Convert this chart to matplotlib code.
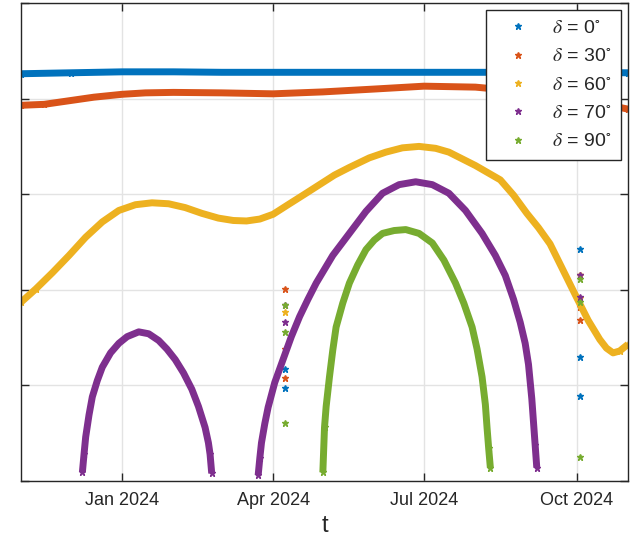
import matplotlib.pyplot as plt
import matplotlib.dates as mdates
import numpy as np
from matplotlib.lines import Line2D

# MATLAB default colour order
COLORS = ["#0072BD", "#D95319", "#EDB120", "#7E2F8E", "#77AC30"]
LABELS = [r"$\delta$ = 0$^{\circ}$", r"$\delta$ = 30$^{\circ}$",
          r"$\delta$ = 60$^{\circ}$", r"$\delta$ = 70$^{\circ}$",
          r"$\delta$ = 90$^{\circ}$"]

# curve values (date, value)
d0_dates = ["2023-11-01", "2023-12-01", "2024-01-01", "2024-02-01",
            "2024-03-01", "2024-04-01", "2024-05-01", "2024-06-01",
            "2024-07-01", "2024-08-01", "2024-09-01", "2024-10-01",
            "2024-11-01"]
d0_vals = [42.6, 42.7, 42.8, 42.8, 42.75, 42.75, 42.75, 42.75,
           42.75, 42.75, 42.75, 42.75, 42.7]

d30_dates = ["2023-11-01", "2023-11-15", "2023-12-01", "2023-12-15",
             "2024-01-01", "2024-01-15", "2024-02-01", "2024-03-01",
             "2024-04-01", "2024-05-01", "2024-06-01", "2024-07-01",
             "2024-08-01", "2024-09-01", "2024-10-01", "2024-11-01"]
d30_vals = [39.3, 39.4, 39.8, 40.15, 40.45, 40.6, 40.65, 40.6,
            40.5, 40.7, 41.0, 41.3, 41.2, 40.7, 40.0, 38.9]

d60_dates = ["2023-11-01", "2023-11-10", "2023-11-20", "2023-11-30",
             "2023-12-10", "2023-12-20", "2023-12-30", "2024-01-09",
             "2024-01-19", "2024-01-29", "2024-02-08", "2024-02-18",
             "2024-02-28", "2024-03-08", "2024-03-16", "2024-03-24",
             "2024-04-01", "2024-04-10", "2024-04-20", "2024-04-29",
             "2024-05-08", "2024-05-17", "2024-05-29", "2024-06-08",
             "2024-06-18", "2024-06-28", "2024-07-08", "2024-07-16",
             "2024-07-24", "2024-08-01", "2024-08-08", "2024-08-16",
             "2024-08-24", "2024-09-01", "2024-09-08", "2024-09-15",
             "2024-09-23", "2024-10-01", "2024-10-08", "2024-10-15",
             "2024-10-19", "2024-10-23", "2024-10-27", "2024-11-01"]
d60_vals = [18.7, 20.1, 21.8, 23.6, 25.5, 27.1, 28.3, 28.9,
            29.1, 29.0, 28.6, 28.0, 27.5, 27.25, 27.2, 27.4,
            27.9, 28.9, 30.0, 31.0, 32.0, 32.8, 33.8, 34.4,
            34.85, 35.0, 34.8, 34.4, 33.7, 33.0, 32.3, 31.5,
            29.9, 28.0, 26.5, 24.8, 22.0, 19.2, 16.8, 14.8,
            13.9, 13.4, 13.6, 14.3]

d70a_dates = ["2023-12-08", "2023-12-09", "2023-12-10", "2023-12-12",
              "2023-12-14", "2023-12-17", "2023-12-20", "2023-12-25",
              "2023-12-30", "2024-01-04", "2024-01-11", "2024-01-17",
              "2024-01-23", "2024-01-28", "2024-02-02", "2024-02-07",
              "2024-02-12", "2024-02-16", "2024-02-20", "2024-02-22",
              "2024-02-23", "2024-02-24"]
d70a_vals = [0.9, 2.8, 4.6, 6.9, 8.8, 10.5, 11.9, 13.4,
             14.4, 15.1, 15.6, 15.4, 14.7, 13.8, 12.7, 11.3,
             9.6, 7.8, 5.6, 4.0, 2.8, 0.8]

d70b_dates = ["2024-03-23", "2024-03-24", "2024-03-25", "2024-03-27",
              "2024-03-29", "2024-04-02", "2024-04-07", "2024-04-12",
              "2024-04-17", "2024-04-22", "2024-04-27", "2024-05-07",
              "2024-05-17", "2024-05-27", "2024-06-06", "2024-06-16",
              "2024-06-26", "2024-07-06", "2024-07-16", "2024-07-26",
              "2024-08-05", "2024-08-13", "2024-08-19", "2024-08-24",
              "2024-08-28", "2024-08-31", "2024-09-02", "2024-09-04",
              "2024-09-05", "2024-09-06", "2024-09-07"]
d70b_vals = [0.6, 2.4, 4.0, 6.0, 7.7, 10.3, 12.7, 15.1,
             17.2, 19.0, 20.7, 23.6, 25.9, 28.2, 30.1, 31.0,
             31.3, 31.0, 30.1, 28.3, 25.9, 23.6, 21.5, 19.0,
             16.6, 14.4, 12.2, 8.6, 6.2, 3.8, 1.4]

d90_dates = ["2024-05-01", "2024-05-02", "2024-05-03", "2024-05-05",
             "2024-05-07", "2024-05-09", "2024-05-13", "2024-05-17",
             "2024-05-22", "2024-05-27", "2024-06-01", "2024-06-06",
             "2024-06-13", "2024-06-20", "2024-06-28", "2024-07-06",
             "2024-07-13", "2024-07-20", "2024-07-25", "2024-07-30",
             "2024-08-02", "2024-08-05", "2024-08-07", "2024-08-08",
             "2024-08-09", "2024-08-10"]
d90_vals = [0.9, 5.6, 7.8, 10.9, 13.7, 16.1, 18.6, 20.7,
            22.6, 24.2, 25.2, 25.9, 26.2, 26.3, 25.9, 24.9,
            23.1, 20.7, 18.6, 16.1, 13.8, 10.9, 8.0, 5.6,
            3.4, 1.4]

# single-day points
pt_day1 = "2024-04-08"
pt_day2 = "2024-10-03"
pt1_vals = [[11.7, 9.7], [20.1, 13.8, 10.8], [17.7],
            [18.4, 16.6], [18.4, 15.6, 6.1]]
pt2_vals = [[24.3, 13.0, 8.9], [21.5, 18.2, 16.8], [21.5, 19.1],
            [21.6, 19.2], [21.1, 18.7, 2.5]]

curves = [[(d0_dates, d0_vals)], [(d30_dates, d30_vals)],
          [(d60_dates, d60_vals)],
          [(d70a_dates, d70a_vals), (d70b_dates, d70b_vals)],
          [(d90_dates, d90_vals)]]

plt.rcParams["font.family"] = ["Liberation Sans", "DejaVu Sans"]
plt.rcParams["mathtext.fontset"] = "stix"

fig = plt.figure(figsize=(6.33, 5.40), dpi=100)
ax = fig.add_axes([21 / 633, 1 - 481 / 540, 607 / 633, 478 / 540])

for i in range(5):
    for dates, vals in curves[i]:
        ax.plot(np.array(dates, dtype="datetime64[D]"), vals, "-",
                color=COLORS[i], linewidth=5, solid_capstyle="butt",
                solid_joinstyle="round", zorder=2)
        # stars at the steep ends of each piece
        ax.plot(np.array(dates[:2] + dates[-2:], dtype="datetime64[D]"),
                vals[:2] + vals[-2:], "*", color=COLORS[i], markersize=4.5,
                zorder=2)
    x1 = np.array([pt_day1] * len(pt1_vals[i]), dtype="datetime64[D]")
    x2 = np.array([pt_day2] * len(pt2_vals[i]), dtype="datetime64[D]")
    ax.plot(x1, pt1_vals[i], "*", color=COLORS[i], markersize=5, zorder=2)
    ax.plot(x2, pt2_vals[i], "*", color=COLORS[i], markersize=5, zorder=2)

ax.set_xlim(np.datetime64("2023-11-01"), np.datetime64("2024-11-01"))
ax.set_ylim(0, 50)
ax.set_yticks([0, 10, 20, 30, 40, 50])
ax.set_yticklabels([])
ax.set_xticks(np.array(["2024-01-01", "2024-04-01", "2024-07-01",
                        "2024-10-01"], dtype="datetime64[D]"))
ax.xaxis.set_major_formatter(mdates.DateFormatter("%b %Y"))
ax.tick_params(direction="in", length=6, width=1, color="#262626",
               labelsize=13, labelcolor="#262626", top=True, right=True,
               pad=8)
ax.grid(True, color="#e3e3e3", linewidth=1)
ax.set_axisbelow(True)
for s in ax.spines.values():
    s.set_color("#262626")
    s.set_linewidth(1)
ax.set_xlabel("t", fontsize=17, color="#262626", labelpad=4)

handles = [Line2D([], [], linestyle="none", marker="*", markersize=5,
                  color=c) for c in COLORS]
leg = ax.legend(handles, LABELS, loc="upper right", fontsize=14,
                frameon=True, fancybox=False, framealpha=1,
                edgecolor="#262626", borderaxespad=0.35, handlelength=2.3,
                handletextpad=0.6, labelspacing=0.55, borderpad=0.5)
leg.get_frame().set_linewidth(1)
for t in leg.get_texts():
    t.set_color("#262626")

fig.savefig("out.png", dpi=100)
